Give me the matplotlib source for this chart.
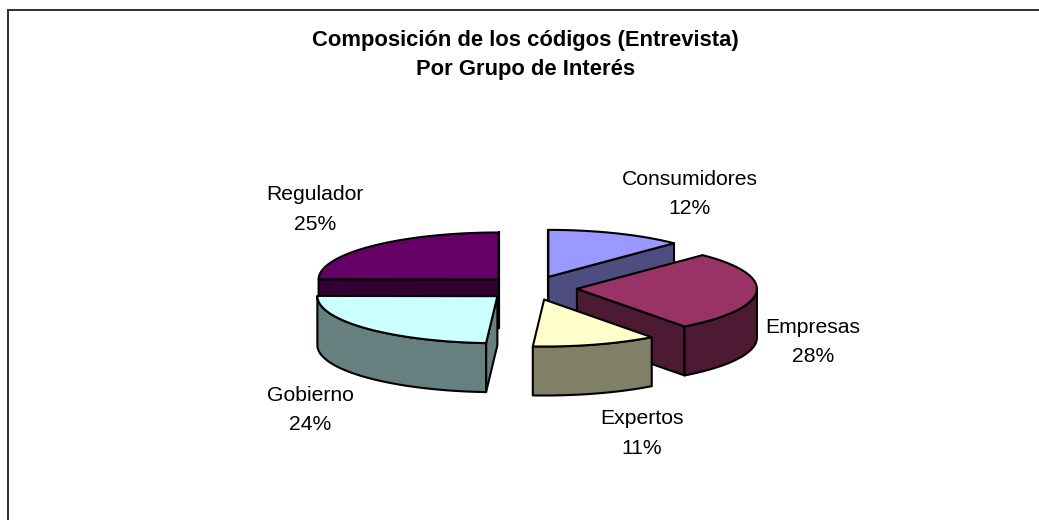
import numpy as np
import matplotlib
matplotlib.use("Agg")
import matplotlib.pyplot as plt
from matplotlib.patches import Polygon

title_lines = ["Composición de los códigos (Entrevista)", "Por Grupo de Interés"]
categories = ["Consumidores", "Empresas", "Expertos", "Gobierno", "Regulador"]
values = [12.3, 27.5, 11.2, 24.1, 24.9]
top_colors = ["#9999FF", "#993366", "#FFFFCC", "#CCFFFF", "#660066"]
side_colors = ["#4D4D80", "#4D1A33", "#808066", "#668080", "#330033"]

W, H = 1039, 520
CX, CY = 531, 288
RX, RY = 180, 47
DEPTH = 49
EXPLODE = 46

label_pos = {
    "Consumidores": (690, 194),
    "Empresas": (813, 342),
    "Expertos": (642, 433.5),
    "Gobierno": (310, 410),
    "Regulador": (315, 209.5),
}

fig = plt.figure(figsize=(W / 100, H / 100), dpi=100)
ax = fig.add_axes([0, 0, 1, 1])
ax.set_xlim(0, W)
ax.set_ylim(H, 0)
ax.axis("off")
plt.rcParams["font.family"] = ["Liberation Sans"]


def pt(ang, cx, cy):
    return (cx + RX * np.sin(ang), cy - RY * np.cos(ang))


def arc(a0, a1, cx, cy, dz=0):
    n = max(2, int(abs(a1 - a0) / np.radians(1.5)))
    t = np.linspace(a0, a1, n)
    return np.column_stack([cx + RX * np.sin(t), cy - RY * np.cos(t) + dz])


total = sum(values)
edges = np.cumsum([0] + values) / total * 2 * np.pi
slices = []
for i, name in enumerate(categories):
    a0, a1 = edges[i], edges[i + 1]
    mid = (a0 + a1) / 2
    cx = CX + EXPLODE * np.sin(mid)
    cy = CY - EXPLODE * RY / RX * np.cos(mid)
    slices.append((cy, i, a0, a1, cx))

LW = 1.5
for cy, i, a0, a1, cx in sorted(slices):
    kw = dict(closed=True, edgecolor="black", lw=LW, joinstyle="round")
    top = top_colors[i]
    side = side_colors[i]
    # cut faces: visible if the outward normal points towards the viewer
    for ang, normal in ((a0, a0 - np.pi / 2), (a1, a1 + np.pi / 2)):
        if np.cos(normal) < 1e-6:
            p = pt(ang, cx, cy)
            q = (cx, cy)
            ax.add_patch(Polygon([q, p, (p[0], p[1] + DEPTH), (q[0], q[1] + DEPTH)],
                                 facecolor=side, **kw))
    # rim: the part in the front half
    lo, hi = max(a0, np.pi / 2), min(a1, 3 * np.pi / 2)
    if hi > lo:
        upper = arc(lo, hi, cx, cy)
        lower = arc(lo, hi, cx, cy, DEPTH)[::-1]
        ax.add_patch(Polygon(np.vstack([upper, lower]), facecolor=side, **kw))
    # top face
    ax.add_patch(Polygon(np.vstack([[(cx, cy)], arc(a0, a1, cx, cy)]), facecolor=top, **kw))

for name, v in zip(categories, values):
    x, y = label_pos[name]
    ax.text(x, y, f"{name}\n{v:.0f}%", ha="center", va="center", fontsize=15.2,
            family="Liberation Sans", color="black", linespacing=1.7)

ax.text(525.5, 55, "\n".join(title_lines), ha="center", va="center", fontsize=15.8,
        fontweight="bold", family="Liberation Sans", color="black", linespacing=1.55)

ax.plot([8, 8, W], [H, 10, 10], color="#333333", lw=1.44, solid_joinstyle="miter")

fig.savefig("out.png", dpi=100, facecolor="white")
